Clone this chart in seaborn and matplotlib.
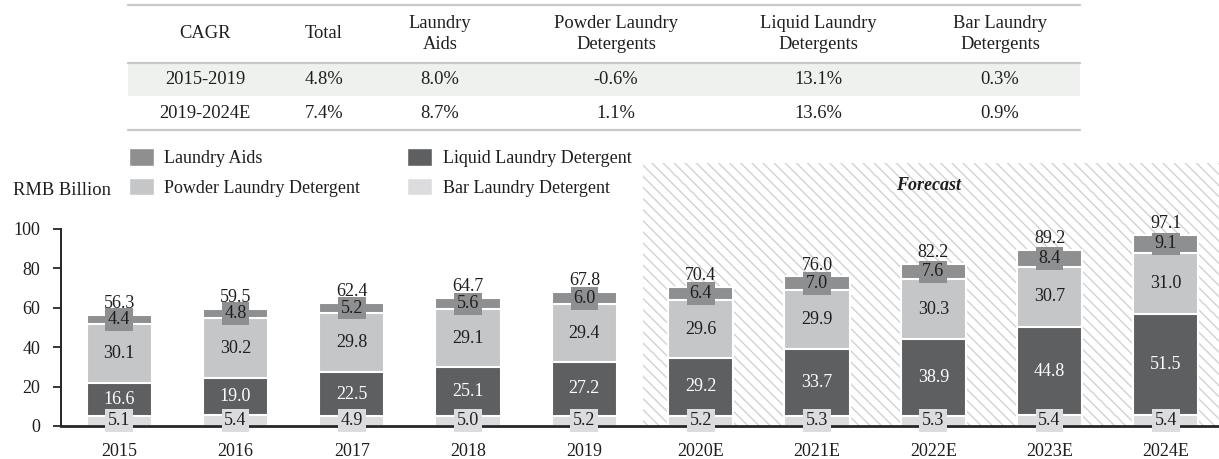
import matplotlib
matplotlib.use("Agg")
import pandas as pd
import matplotlib.pyplot as plt
import seaborn as sns
from matplotlib.patches import Rectangle, Patch

# ---------------- Data ----------------
years = ["2015", "2016", "2017", "2018", "2019", "2020E", "2021E", "2022E", "2023E", "2024E"]
bar_det = [5.1, 5.4, 4.9, 5.0, 5.2, 5.2, 5.3, 5.3, 5.4, 5.4]
liquid = [16.6, 19.0, 22.5, 25.1, 27.2, 29.2, 33.7, 38.9, 44.8, 51.5]
powder = [30.1, 30.2, 29.8, 29.1, 29.4, 29.6, 29.9, 30.3, 30.7, 31.0]
aids = [4.4, 4.8, 5.2, 5.6, 6.0, 6.4, 7.0, 7.6, 8.4, 9.1]
totals = [56.3, 59.5, 62.4, 64.7, 67.8, 70.4, 76.0, 82.2, 89.2, 97.1]

table_header = ["CAGR", "Total", "Laundry\nAids", "Powder Laundry\nDetergents",
                "Liquid Laundry\nDetergents", "Bar Laundry\nDetergents"]
cagr_2015_2019 = ["2015-2019", "4.8%", "8.0%", "-0.6%", "13.1%", "0.3%"]
cagr_2019_2024 = ["2019-2024E", "7.4%", "8.7%", "1.1%", "13.6%", "0.9%"]

# colours
c_aids = "#8e8f91"
c_liquid = "#5e5f61"
c_powder = "#c5c6c8"
c_bar = "#dcdcde"
txt = "#1e1e1e"

sns.set_style("ticks")
plt.rcParams['font.family'] = ['Liberation Serif', 'DejaVu Serif']
plt.rcParams['hatch.linewidth'] = 1.0

df = pd.DataFrame({"year": years, "bar": bar_det, "liquid": liquid,
                   "powder": powder, "aids": aids})
df["c1"] = df["bar"]
df["c2"] = df["c1"] + df["liquid"]
df["c3"] = df["c2"] + df["powder"]
df["c4"] = df["c3"] + df["aids"]

W, H = 1219, 459
fig = plt.figure(figsize=(W / 100, H / 100), dpi=100)

# ---------------- Chart ----------------
ax = fig.add_axes([61 / W, 1 - 426 / H, (W - 61) / W, (426 - 163) / H])

# stacked bars: draw cumulative totals from tallest to shortest
for col, color in [("c4", c_aids), ("c3", c_powder), ("c2", c_liquid), ("c1", c_bar)]:
    sns.barplot(data=df, x="year", y=col, color=color, saturation=1, width=0.56,
                edgecolor="white", linewidth=1.5, errorbar=None, ax=ax, zorder=1)

x_right = -0.5 + (W - 61) / 116.3
ax.set_xlim(-0.5, x_right)
ax.set_ylim(0, 133.5)

# forecast area
ax.add_patch(Rectangle((4.5, 0), x_right - 4.5, 133.5, facecolor="white",
                       edgecolor="#d2d2d2", hatch="\\\\\\", linewidth=0, zorder=0))

# value labels
for i in range(len(years)):
    b, l, p, a = bar_det[i], liquid[i], powder[i], aids[i]
    ax.text(i, 2.8, f"{b:.1f}", ha="center", va="center", fontsize=13, color=txt,
            bbox=dict(boxstyle="square,pad=0.15", fc=c_bar, ec="none"), zorder=4)
    ax.text(i, b + l / 2, f"{l:.1f}", ha="center", va="center", fontsize=13, color="white")
    ax.text(i, b + l + p / 2, f"{p:.1f}", ha="center", va="center", fontsize=13, color=txt)
    ax.text(i, b + l + p + a / 2, f"{a:.1f}", ha="center", va="center", fontsize=13,
            color=txt, bbox=dict(boxstyle="square,pad=0.15", fc=c_aids, ec="none"))
    ax.text(i, b + l + p + a + 1.5, f"{totals[i]:.1f}", ha="center", va="bottom",
            fontsize=13, color=txt)

ax.text(6.96, 122, "Forecast", ha="center", va="center", fontsize=13,
        fontweight="bold", fontstyle="italic", color=txt)

ax.set_xlabel("")
ax.set_ylabel("")
ax.set_yticks([0, 20, 40, 60, 80, 100])
ax.tick_params(axis="y", labelsize=13, length=6, width=1.3, direction="out", pad=9,
               labelcolor=txt)
ax.tick_params(axis="x", labelsize=13, length=0, pad=12, labelcolor=txt)
sns.despine(ax=ax)
ax.spines["left"].set_bounds(0, 100)
ax.spines["left"].set_linewidth(1.4)
ax.spines["bottom"].set_linewidth(2)

fig.text(13 / W, 1 - 191 / H, "RMB Billion", fontsize=13.3, va="center", ha="left",
         color=txt)

# legend
handles = [Patch(facecolor=c_aids, label="Laundry Aids"),
           Patch(facecolor=c_powder, label="Powder Laundry Detergent"),
           Patch(facecolor=c_liquid, label="Liquid Laundry Detergent"),
           Patch(facecolor=c_bar, label="Bar Laundry Detergent")]
fig.legend(handles=handles, loc="upper left", bbox_to_anchor=(113 / W, 1 - 132 / H),
           ncol=2, frameon=False, fontsize=13, handlelength=1.35, handleheight=1.1,
           columnspacing=2.6, labelspacing=0.6, handletextpad=0.6, labelcolor=txt)

# ---------------- CAGR table ----------------
tab = fig.add_axes([0, 0, 1, 1], facecolor="none")
tab.set_xlim(0, W)
tab.set_ylim(H, 0)
tab.axis("off")
x0, x1 = 128, 1080
col_x = [205, 324, 440, 616, 818, 1000]
tab.add_patch(Rectangle((x0, 63), x1 - x0, 33, facecolor="#eff1ef", edgecolor="none"))
for yl in [5, 63, 130]:
    tab.plot([x0, x1], [yl, yl], color="#c8c8c8", lw=1.6)
for j in range(len(col_x)):
    tab.text(col_x[j], 34, table_header[j], ha="center", va="center", fontsize=13.3,
             linespacing=1.3, color=txt)
    tab.text(col_x[j], 80, cagr_2015_2019[j], ha="center", va="center", fontsize=13.3,
             color=txt)
    tab.text(col_x[j], 114, cagr_2019_2024[j], ha="center", va="center", fontsize=13.3,
             color=txt)

fig.savefig("out.png", dpi=100)
